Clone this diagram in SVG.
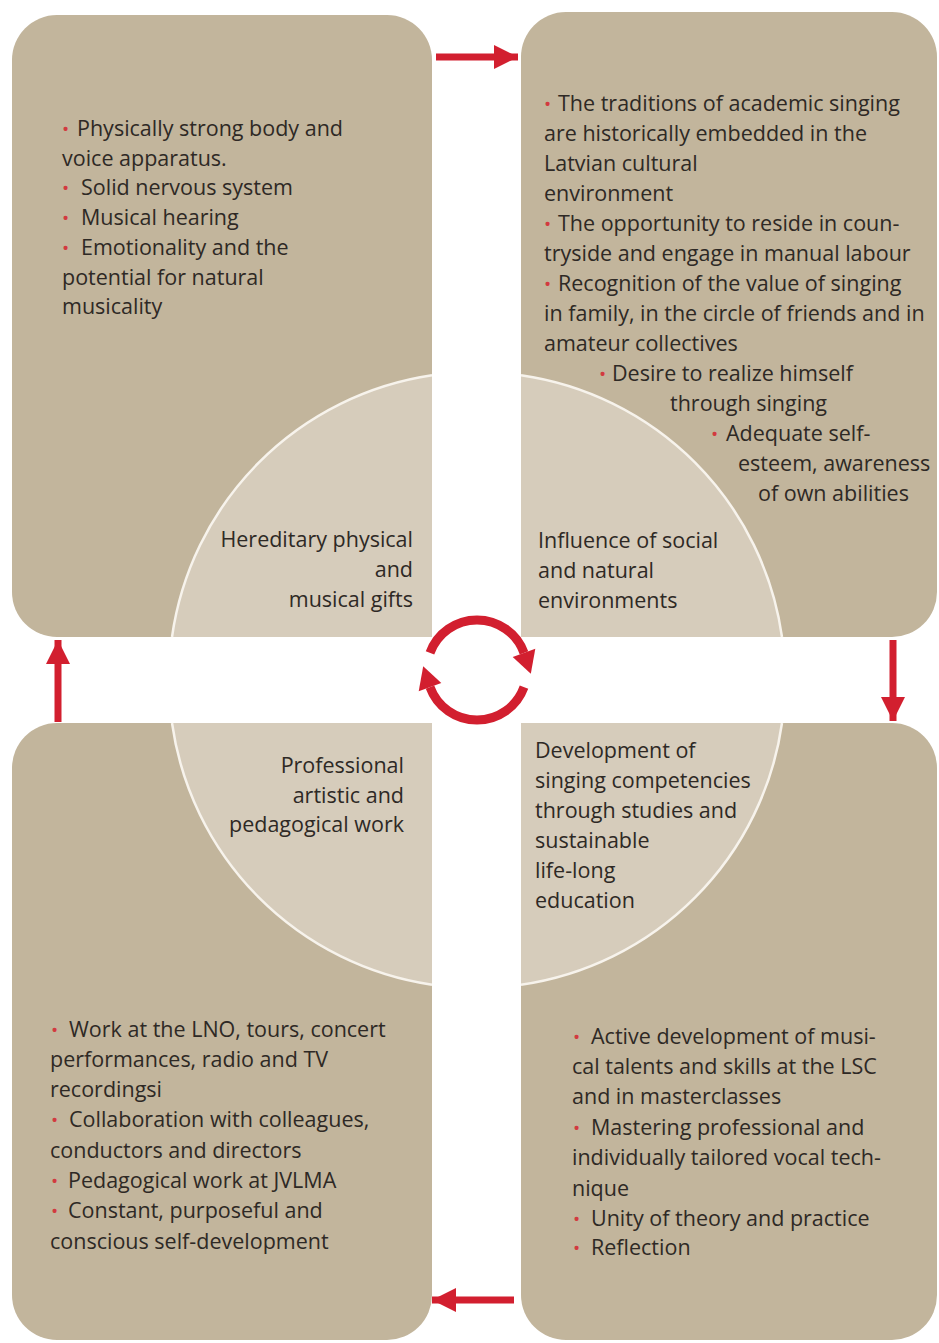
<svg xmlns="http://www.w3.org/2000/svg" width="939" height="1343" viewBox="0 0 939 1343">
<style>
.box{fill:#c2b59c}
.quad{fill:#d6ccbb}
.rim{fill:none;stroke:#f7f3ec;stroke-width:2.5}
text{font-family:"Open Sans","Noto Sans","DejaVu Sans",sans-serif;font-size:21.5px;fill:#2e2925}
.b{fill:#d23a3f;font-size:19px}
.arr{stroke:#d21f2f;stroke-width:7;fill:none}
.cyc{stroke:#d21f2f;stroke-width:9;fill:none}
.head{fill:#d21f2f}
</style>
<defs>
<marker id="ah" viewBox="0 0 24 24" refX="24" refY="12" markerWidth="24" markerHeight="24" markerUnits="userSpaceOnUse" orient="auto">
<path d="M0,0 L24,12 L0,24 Z" fill="#d21f2f"/>
</marker>
</defs>
<rect width="939" height="1343" fill="#ffffff"/>

<g id="node-hereditary">
<path class="box" d="M57,15 H387 A45,45 0 0 1 432,60 V637 H57 A45,45 0 0 1 12,592 V60 A45,45 0 0 1 57,15 Z"/>
<path class="quad" d="M432,637 L432,375.3 A308,308 0 0 0 172,637 Z"/>
<path class="rim" d="M432,375.3 A308,308 0 0 0 172,637"/>
<text x="62" y="136"><tspan class="b">•</tspan><tspan x="77">Physically strong body and</tspan></text>
<text x="62" y="166">voice apparatus.</text>
<text x="62" y="195"><tspan class="b">•</tspan><tspan x="81">Solid nervous system</tspan></text>
<text x="62" y="225"><tspan class="b">•</tspan><tspan x="81">Musical hearing</tspan></text>
<text x="62" y="255"><tspan class="b">•</tspan><tspan x="81">Emotionality and the</tspan></text>
<text x="62" y="285">potential for natural</text>
<text x="62" y="314">musicality</text>
<text x="413" y="547" text-anchor="end">Hereditary physical</text>
<text x="413" y="577" text-anchor="end">and</text>
<text x="413" y="607" text-anchor="end">musical gifts</text>
</g>

<g id="node-environment">
<path class="box" d="M566,12 H892 A45,45 0 0 1 937,57 V592 A45,45 0 0 1 892,637 H521 V57 A45,45 0 0 1 566,12 Z"/>
<path class="quad" d="M521,637 L521,375.2 A308,308 0 0 1 782,637 Z"/>
<path class="rim" d="M521,375.2 A308,308 0 0 1 782,637"/>
<text x="544" y="111"><tspan class="b">•</tspan><tspan x="558">The traditions of academic singing</tspan></text>
<text x="544" y="141">are historically embedded in the</text>
<text x="544" y="171">Latvian cultural</text>
<text x="544" y="201">environment</text>
<text x="544" y="231"><tspan class="b">•</tspan><tspan x="558">The opportunity to reside in coun-</tspan></text>
<text x="544" y="261">tryside and engage in manual labour</text>
<text x="544" y="291"><tspan class="b">•</tspan><tspan x="558">Recognition of the value of singing</tspan></text>
<text x="544" y="321">in family, in the circle of friends and in</text>
<text x="544" y="351">amateur collectives</text>
<text x="599" y="381"><tspan class="b">•</tspan><tspan x="612">Desire to realize himself</tspan></text>
<text x="670" y="411">through singing</text>
<text x="711" y="441"><tspan class="b">•</tspan><tspan x="726">Adequate self-</tspan></text>
<text x="738" y="471">esteem, awareness</text>
<text x="758" y="501">of own abilities</text>
<text x="538" y="548">Influence of social</text>
<text x="538" y="578">and natural</text>
<text x="538" y="608">environments</text>
</g>

<g id="node-development">
<path class="box" d="M521,723 H892 A45,45 0 0 1 937,768 V1295 A45,45 0 0 1 892,1340 H566 A45,45 0 0 1 521,1295 Z"/>
<path class="quad" d="M521,723 L521,984.8 A308,308 0 0 0 782,723 Z"/>
<path class="rim" d="M521,984.8 A308,308 0 0 0 782,723"/>
<text x="535" y="758">Development of</text>
<text x="535" y="788">singing competencies</text>
<text x="535" y="818">through studies and</text>
<text x="535" y="848">sustainable</text>
<text x="535" y="878">life-long</text>
<text x="535" y="908">education</text>
<text x="573" y="1044"><tspan class="b">•</tspan><tspan x="591">Active development of musi-</tspan></text>
<text x="572" y="1074">cal talents and skills at the LSC</text>
<text x="572" y="1104">and in masterclasses</text>
<text x="573" y="1135"><tspan class="b">•</tspan><tspan x="591">Mastering professional and</tspan></text>
<text x="572" y="1165">individually tailored vocal tech-</text>
<text x="572" y="1196">nique</text>
<text x="573" y="1226"><tspan class="b">•</tspan><tspan x="591">Unity of theory and practice</tspan></text>
<text x="573" y="1255"><tspan class="b">•</tspan><tspan x="591">Reflection</tspan></text>
</g>

<g id="node-professional">
<path class="box" d="M57,723 H432 V1295 A45,45 0 0 1 387,1340 H57 A45,45 0 0 1 12,1295 V768 A45,45 0 0 1 57,723 Z"/>
<path class="quad" d="M432,723 L432,984.7 A308,308 0 0 1 172,723 Z"/>
<path class="rim" d="M432,984.7 A308,308 0 0 1 172,723"/>
<text x="404" y="773" text-anchor="end">Professional</text>
<text x="404" y="803" text-anchor="end">artistic and</text>
<text x="404" y="832" text-anchor="end">pedagogical work</text>
<text x="51" y="1037"><tspan class="b">•</tspan><tspan x="69">Work at the LNO, tours, concert</tspan></text>
<text x="50" y="1067">performances, radio and TV</text>
<text x="50" y="1097">recordingsi</text>
<text x="51" y="1127"><tspan class="b">•</tspan><tspan x="69">Collaboration with colleagues,</tspan></text>
<text x="50" y="1158">conductors and directors</text>
<text x="51" y="1188"><tspan class="b">•</tspan><tspan x="68">Pedagogical work at JVLMA</tspan></text>
<text x="51" y="1218"><tspan class="b">•</tspan><tspan x="68">Constant, purposeful and</tspan></text>
<text x="50" y="1249">conscious self-development</text>
</g>

<g id="connectors">
<path class="arr" d="M436,57 H518" marker-end="url(#ah)"/>
<path class="arr" d="M893,640 V721" marker-end="url(#ah)"/>
<path class="arr" d="M514,1300 H432" marker-end="url(#ah)"/>
<path class="arr" d="M58,722 V640" marker-end="url(#ah)"/>
<g id="cycle">
<path class="cyc" d="M430,652.9 A50,50 0 0 1 524,652.9"/>
<path class="head" d="M535.3,648.8 L512.7,657 L530.8,673.7 Z"/>
<path class="cyc" d="M524,687.1 A50,50 0 0 1 430,687.1"/>
<path class="head" d="M418.7,691.2 L441.3,683 L423.2,666.3 Z"/>
</g>
</g>
</svg>
